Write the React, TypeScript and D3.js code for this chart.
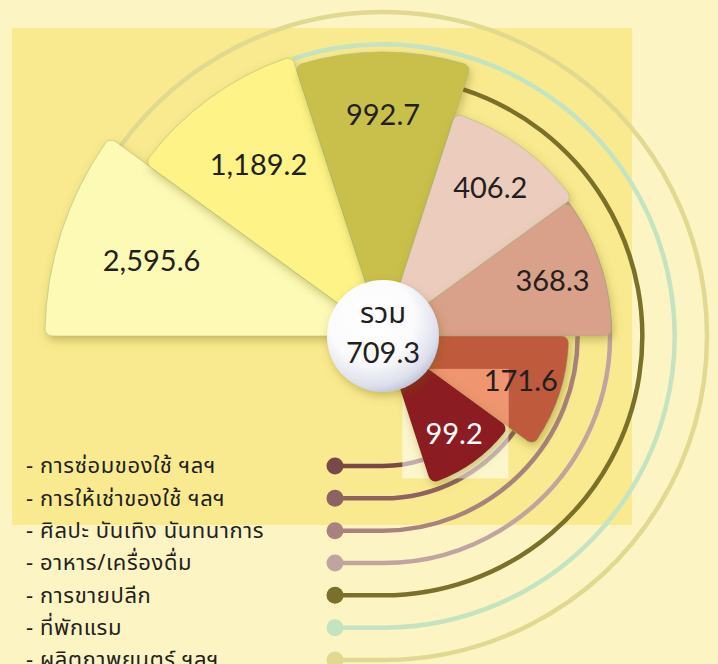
import React, { useEffect, useRef } from 'react';
import * as d3 from 'd3';

// sector order, clockwise from the left
const categories = [
  'ผลิตภาพยนตร์ ฯลฯ',
  'ที่พักแรม',
  'การขายปลีก',
  'อาหาร/เครื่องดื่ม',
  'ศิลปะ บันเทิง นันทนาการ',
  'การให้เช่าของใช้ ฯลฯ',
  'การซ่อมของใช้ ฯลฯ',
];
const values = [2595.6, 1189.2, 992.7, 406.2, 368.3, 171.6, 99.2];
const valueLabels = ['2,595.6', '1,189.2', '992.7', '406.2', '368.3', '171.6', '99.2'];
const sectorColors = ['#fdfab6', '#fdf386', '#c9c04c', '#eccdbd', '#d9a189', '#bf5a3c', '#8a1c20'];
const ringColors = ['#e0d98f', '#c4e3c0', '#7a7029', '#c0a4a0', '#a8827e', '#8c6262', '#7a4848'];
// legend goes from the innermost ring outwards
const legendOrder = categories.slice().reverse();
const centerTitle = 'รวม';
const centerValue = '709.3';

const App = () => {
  const svgRef = useRef(null);

  useEffect(() => {
    const svg = d3.select(svgRef.current);
    const width = 718;
    const height = 664;
    const cx = 383;
    const cy = 336;
    const hubR = 56;
    const dotX = 335;
    const numFont = 'Lato, "Noto Sans", sans-serif';
    const thaiFont = '"Noto Sans Thai", "Noto Sans Thai UI", "Noto Sans", sans-serif';

    svg.attr('viewBox', `0 0 ${width} ${height}`);
    svg.selectAll('*').remove();

    const angle = d3
      .scaleBand()
      .domain(categories)
      .range([-Math.PI / 2, -Math.PI / 2 + (7 * Math.PI) / 5]);
    const radius = d3
      .scaleLog()
      .domain([d3.min(values), d3.max(values)])
      .range([155, 338]);
    const ringR = d3.scaleLinear().domain([0, legendOrder.length - 1]).range([130, 324]);

    const defs = svg.append('defs');
    const shadow = defs.append('filter').attr('id', 'shadow').attr('x', '-20%').attr('y', '-20%').attr('width', '140%').attr('height', '140%');
    shadow.append('feDropShadow').attr('dx', 2).attr('dy', 4).attr('stdDeviation', 5).attr('flood-color', '#6e5e08').attr('flood-opacity', 0.35);

    const hubGrad = defs.append('radialGradient').attr('id', 'hubGrad').attr('cx', '40%').attr('cy', '35%').attr('r', '70%');
    hubGrad.append('stop').attr('offset', '0%').attr('stop-color', '#ffffff');
    hubGrad.append('stop').attr('offset', '55%').attr('stop-color', '#fbfbfd');
    hubGrad.append('stop').attr('offset', '85%').attr('stop-color', '#dde0ec');
    hubGrad.append('stop').attr('offset', '100%').attr('stop-color', '#b8bdd2');

    const redGrad = defs
      .append('radialGradient')
      .attr('id', 'redGrad')
      .attr('gradientUnits', 'userSpaceOnUse')
      .attr('cx', cx)
      .attr('cy', cy)
      .attr('r', radius(values[6]));
    redGrad.append('stop').attr('offset', '35%').attr('stop-color', '#5e1015');
    redGrad.append('stop').attr('offset', '65%').attr('stop-color', '#80191e');
    redGrad.append('stop').attr('offset', '100%').attr('stop-color', '#8b1c21');

    // background + panel
    svg.append('rect').attr('width', width).attr('height', height).attr('fill', '#fdf4c4');
    svg.append('rect').attr('x', 12).attr('y', 28).attr('width', 620).attr('height', 497).attr('fill', '#f9ea8f');

    // rings + legend
    legendOrder.forEach((cat, i) => {
      const k = categories.indexOf(cat);
      const r = ringR(i);
      const end = angle(cat) + angle.bandwidth();
      const p = d3.path();
      p.moveTo(dotX, cy + r);
      p.lineTo(cx, cy + r);
      p.arc(cx, cy, r, Math.PI / 2, end - Math.PI / 2, true);
      svg
        .append('path')
        .attr('d', p.toString())
        .attr('fill', 'none')
        .attr('stroke', ringColors[k])
        .attr('stroke-width', 4.5);
      svg.append('circle').attr('cx', dotX).attr('cy', cy + r).attr('r', 8.5).attr('fill', ringColors[k]);
      svg
        .append('text')
        .attr('x', 26)
        .attr('y', cy + r)
        .attr('dy', '0.33em')
        .attr('fill', '#231f20')
        .attr('font-size', 22)
        .attr('letter-spacing', 0.6)
        .attr('font-family', thaiFont)
        .text(`- ${cat}`);
    });

    const arc = d3.arc().innerRadius(0).cornerRadius(7);
    const sectorPath = (k) =>
      arc({
        startAngle: angle(categories[k]),
        endAngle: angle(categories[k]) + angle.bandwidth(),
        outerRadius: radius(values[k]),
      });

    const g = svg.append('g').attr('transform', `translate(${cx},${cy})`);
    const last = categories.length - 1;

    categories.forEach((cat, k) => {
      if (k === last) return;
      g.append('path')
        .attr('d', sectorPath(k))
        .attr('fill', sectorColors[k])
        .attr('stroke', 'rgba(150,175,120,0.45)')
        .attr('stroke-width', 1)
        .attr('filter', 'url(#shadow)');
    });

    // highlight box behind the smallest sector (its ring segment outside the hub)
    const a0 = angle(categories[last]);
    const a1 = a0 + angle.bandwidth();
    const rl = radius(values[last]);
    const pts = [
      [a0, hubR], [a1, hubR], [a0, rl], [a1, rl],
    ].map(([a, r]) => [r * Math.sin(a), -r * Math.cos(a)]);
    const bx0 = d3.min(pts, (d) => d[0]) + 2;
    const bx1 = d3.max(pts, (d) => d[0]);
    const by0 = d3.min(pts, (d) => d[1]);
    const by1 = d3.max(pts, (d) => d[1]) - 5;

    defs
      .append('clipPath')
      .attr('id', 'boxClip')
      .append('rect')
      .attr('x', bx0)
      .attr('y', by0)
      .attr('width', bx1 - bx0)
      .attr('height', by1 - by0);

    g.append('rect')
      .attr('x', bx0)
      .attr('y', by0)
      .attr('width', bx1 - bx0)
      .attr('height', by1 - by0)
      .attr('fill', '#ffffff')
      .attr('opacity', 0.55);

    g.append('path')
      .attr('d', sectorPath(last - 1))
      .attr('fill', '#ef9670')
      .attr('clip-path', 'url(#boxClip)');

    g.append('path')
      .attr('d', sectorPath(last))
      .attr('fill', 'url(#redGrad)')
      .attr('filter', 'url(#shadow)');

    // value labels
    categories.forEach((cat, k) => {
      const mid = angle(cat) + angle.bandwidth() / 2;
      const r = radius(values[k]) * (k < 2 ? 0.72 : 0.78);
      g.append('text')
        .attr('x', r * Math.sin(mid))
        .attr('y', -r * Math.cos(mid))
        .attr('dy', '0.35em')
        .attr('text-anchor', 'middle')
        .attr('fill', k === last ? '#ffffff' : '#231f20')
        .attr('font-size', 29)
        .attr('font-family', numFont)
        .text(valueLabels[k]);
    });

    // hub
    g.append('circle').attr('r', hubR).attr('fill', 'url(#hubGrad)').attr('filter', 'url(#shadow)');
    g.append('text')
      .attr('y', -13)
      .attr('text-anchor', 'middle')
      .attr('fill', '#231f20')
      .attr('font-size', 29)
      .attr('font-family', thaiFont)
      .text(centerTitle);
    g.append('text')
      .attr('y', 27)
      .attr('text-anchor', 'middle')
      .attr('fill', '#231f20')
      .attr('font-size', 29)
      .attr('font-family', numFont)
      .text(centerValue);
  }, []);

  return (
    <div style={{ position: 'absolute', left: 0, top: 0 }}>
      <svg ref={svgRef} width={718} height={664} style={{ display: 'block' }} />
    </div>
  );
};

export default App;
